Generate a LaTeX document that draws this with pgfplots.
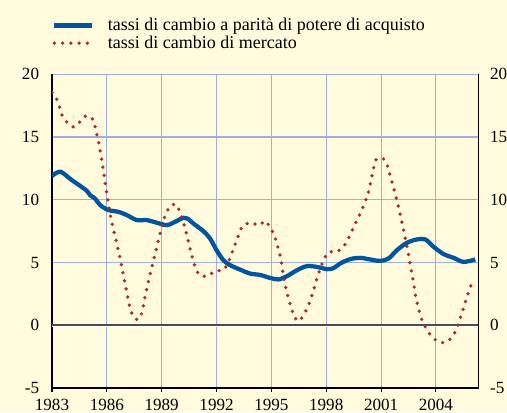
\documentclass[border=0pt]{standalone}
\usepackage{pgfplots}
\pgfplotsset{compat=1.18}
\usepackage{fontspec}
\setmainfont{Liberation Serif}
\definecolor{bg}{RGB}{255,251,220}
\definecolor{gridblue}{RGB}{160,175,225}
\definecolor{pppblue}{RGB}{0,84,160}
\definecolor{mktred}{RGB}{170,45,45}
\begin{document}
\fontsize{12.8pt}{14pt}\selectfont
\begin{tikzpicture}
\path[fill=bg, use as bounding box] (-39pt,-18pt) rectangle (341.25pt,291pt);
\begin{axis}[
  at={(0pt,0pt)}, anchor=south west, scale only axis,
  width=319.9pt, height=235.3pt,
  xmin=1983, xmax=2006.33, ymin=-5, ymax=20,
  axis x line*=bottom, axis y line*=left,
  axis line style={black, line width=0.8pt},
  xtick={1983,1986,...,2004},
  xticklabels={1983,1986,1989,1992,1995,1998,2001,2004},
  ytick={-5,0,5,10,15,20},
  yticklabels={-5,0,5,10,15,20},
  xtick align=outside, major tick length=3pt,
  xtick style={black, line width=0.8pt},
  ytick style={draw=none},
  grid=major, grid style={gridblue, line width=0.8pt},
  ticklabel style={font=\fontsize{12.8pt}{14pt}\selectfont},
  xticklabel style={anchor=north, inner sep=0pt, yshift=-5pt},
  yticklabel style={anchor=east, inner sep=0pt, xshift=-9.5pt},
  legend cell align=left,
  legend image code/.code={\draw[#1] (0pt,0pt) -- (28pt,0pt);},
  legend style={at={(0,1)}, anchor=north west, xshift=0pt, yshift=44.5pt,
    draw=none, fill=none, inner sep=0pt, row sep=-2pt, column sep=8.5pt,
    font=\fontsize{13.5pt}{15pt}\selectfont},
]
\addplot[forget plot, gray!60!black, line width=1.2pt] coordinates {(1983,0) (2006.33,0)};
\addplot[forget plot, white, line width=0.8pt, yshift=-1.2pt] coordinates {(1983,0) (2006.33,0)};
\addplot[pppblue, line width=3.2pt, smooth, tension=0.5] coordinates {
(1983.0,11.9) (1983.25,12.15) (1983.49,12.23) (1983.8,11.9) (1984.08,11.57)
(1984.35,11.3) (1984.9,10.72) (1985.08,10.37) (1985.35,10.1) (1985.63,9.58)
(1986.08,9.18) (1986.63,9.04) (1987.09,8.78) (1987.64,8.38) (1988.18,8.38)
(1988.73,8.17) (1989.28,7.98) (1989.73,8.24) (1990.19,8.56) (1990.45,8.46)
(1990.73,8.11) (1991.28,7.5) (1991.64,6.92) (1992.0,5.99) (1992.37,5.19)
(1992.74,4.79) (1993.28,4.44) (1993.83,4.12) (1994.38,4.01) (1994.93,3.77)
(1995.39,3.65) (1995.85,3.91) (1996.4,4.39) (1996.94,4.71) (1997.49,4.65)
(1998.04,4.47) (1998.4,4.55) (1998.76,4.92) (1999.31,5.27) (1999.86,5.37)
(2000.41,5.24) (2000.95,5.13) (2001.41,5.32) (2001.87,5.99) (2002.41,6.57)
(2002.96,6.84) (2003.42,6.84) (2003.87,6.25) (2004.42,5.67) (2004.97,5.37)
(2005.51,5.05) (2006.15,5.24)
};
\addlegendentry{tassi di cambio a parità di potere di acquisto}
\addplot[mktred, line width=2.8pt, line cap=round, dash pattern=on 0pt off 6.2pt, smooth, tension=0.4] coordinates {
(1983.0,18.54) (1983.26,18.0) (1983.42,17.37) (1983.56,16.7) (1983.8,16.2)
(1984.17,15.8) (1984.52,16.2) (1984.86,16.7) (1985.19,16.5) (1985.34,15.9)
(1985.45,15.2) (1985.56,14.5) (1985.72,13.2) (1985.85,11.9) (1986.0,10.5)
(1986.14,9.18) (1986.32,7.85) (1986.54,6.54) (1986.74,5.2) (1986.92,3.89)
(1987.1,2.55) (1987.3,1.22) (1987.49,0.6) (1987.71,0.45) (1987.93,1.04)
(1988.1,2.37) (1988.31,3.7) (1988.53,5.03) (1988.75,6.33) (1988.97,7.66)
(1989.09,8.32) (1989.26,8.96) (1989.47,9.52) (1989.8,9.63) (1990.0,9.0)
(1990.15,8.4) (1990.39,7.1) (1990.61,5.77) (1990.87,4.47) (1991.12,3.94)
(1991.54,3.94) (1991.92,4.34) (1992.34,4.37) (1992.6,4.87) (1992.76,5.45)
(1992.92,6.09) (1993.09,6.73) (1993.25,7.37) (1993.45,7.96) (1993.89,8.17)
(1994.33,7.96) (1994.66,8.32) (1994.92,7.82) (1995.13,7.24) (1995.28,6.6)
(1995.41,5.93) (1995.52,5.27) (1995.66,3.94) (1995.85,2.6) (1996.1,1.3)
(1996.26,0.66) (1996.5,0.32) (1996.79,0.88) (1996.99,1.46) (1997.16,2.1)
(1997.3,2.77) (1997.56,4.05) (1997.89,5.32) (1998.15,5.85) (1998.56,5.85)
(1998.94,6.25) (1999.18,6.84) (1999.57,8.06) (1999.97,9.26) (2000.3,10.56)
(2000.5,11.9) (2000.72,13.19) (2001.1,13.3) (2001.34,12.75) (2001.59,11.44)
(2001.83,10.14) (2002.05,8.8) (2002.25,7.47) (2002.43,6.15) (2002.6,4.81)
(2002.76,3.49) (2002.92,2.13) (2003.14,0.82) (2003.3,0.18) (2003.53,-0.42)
(2003.8,-0.96) (2004.18,-1.36) (2004.6,-1.33) (2004.93,-0.85) (2005.13,-0.26)
(2005.44,1.04) (2005.71,2.34) (2006.03,3.62)
};
\addlegendentry{tassi di cambio di mercato}
\end{axis}
\begin{axis}[
  at={(0pt,0pt)}, anchor=south west, scale only axis,
  width=319.9pt, height=235.3pt,
  xmin=1983, xmax=2006.33, ymin=-5, ymax=20,
  hide x axis, axis y line*=right,
  axis line style={black, line width=0.8pt},
  ytick={-5,0,5,10,15,20},
  yticklabels={-5,0,5,10,15,20},
  ytick style={draw=none},
  ticklabel style={font=\fontsize{12.8pt}{14pt}\selectfont},
  yticklabel style={anchor=west, inner sep=0pt, xshift=8.5pt},
]
\addplot[draw=none] coordinates {(1983,0)};
\end{axis}
\end{tikzpicture}
\end{document}
